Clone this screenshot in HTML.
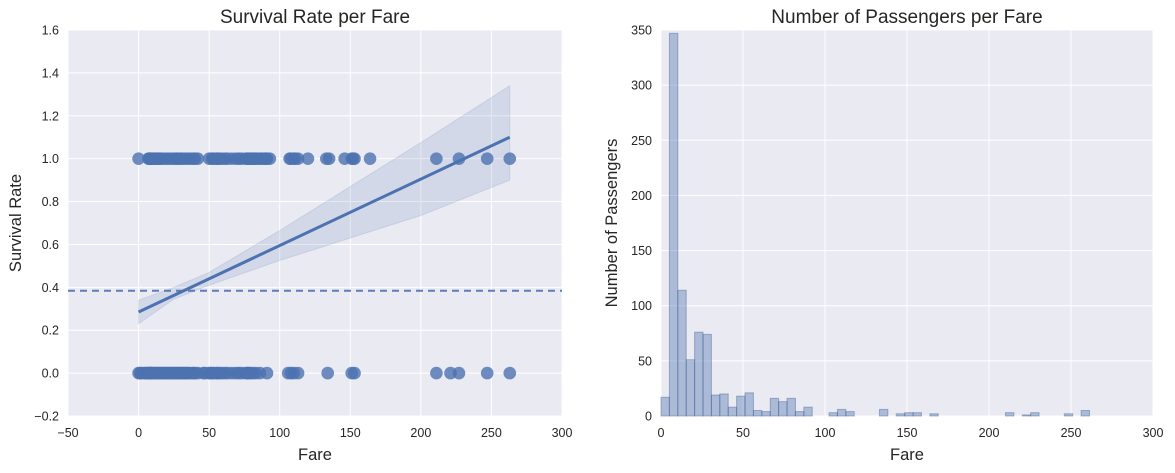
<!DOCTYPE html>
<html><head><meta charset="utf-8">
<style>
html,body{margin:0;padding:0;background:#fff;}
svg{display:block;font-family:"Liberation Sans",Arial,sans-serif;}
</style></head>
<body>
<svg id="chart" width="1175" height="473" viewBox="0 0 1175 473" xmlns="http://www.w3.org/2000/svg"></svg>
<script>
// ---- Left chart data ----
const survivedFares = [0,7,7.5,8,8.5,9,10,11,12,13,14,15,16,18,20,22,24,26,27,28,30,31,33,35,37,39,40,42,50,52,53,55,56,57,59,61,63,66,69,71,73,76,77,78,79,80,81,82,83,84,86,87,89,90,91,93,107,108,110,111,113,120,133,135,146,151,152,153,164,211,227,247,263];
const diedFares = [0,1,2,4,5,6,7,7.5,8,8.5,9,10,11,12,13,14,15,16,17,18,19,20,21,22,23,24,25,26,27,28,29,30,31,32,33,34,35,36,38,39,40,42,46,47,50,51,52,53,55,56,57,59,61,63,66,69,71,73,76,77,78,79,81,83,86,91,106,108,110,113,134,151,153,211,221,227,247,263];
const regX = [0, 263];
const regY = [0.285, 1.10];
const ciX = [0, 25, 50, 100, 150, 200, 263];
const ciLo = [0.23, 0.345, 0.41, 0.525, 0.63, 0.735, 0.90];
const ciHi = [0.34, 0.40, 0.47, 0.665, 0.87, 1.075, 1.34];
const meanRate = 0.384;
const leftXTicks = [-50,0,50,100,150,200,250,300];
const leftYTicks = [-0.2,0,0.2,0.4,0.6,0.8,1.0,1.2,1.4,1.6];

// ---- Right chart data ----
const binWidth = 5.1233;
const histCounts = [17,347,114,51,76,74,19,20,8,18,21,5,4,16,13,16,4,8,0,0,3,6,4,0,0,0,6,0,2,3,3,0,2,0,0,0,0,0,0,0,0,3,0,1,3,0,0,0,2,0,5];
const rightXTicks = [0,50,100,150,200,250,300];
const rightYTicks = [0,50,100,150,200,250,300,350];

const NS = "http://www.w3.org/2000/svg";
const svg = document.getElementById('chart');
function el(tag, attrs, parent, text){
  const e = document.createElementNS(NS, tag);
  for (const k in attrs) e.setAttribute(k, attrs[k]);
  if (text !== undefined) e.textContent = text;
  (parent || svg).appendChild(e);
  return e;
}
const fmt = s => String(s).replace('-', '\u2212');
const BLUE = '#4c72b0';
const TICK = 12.5, TITLE = 19, LABEL = 16.5;

// ---------- LEFT ----------
const L = {x0:68, x1:562, y0:30, y1:416, xmin:-50, xmax:300, ymin:-0.2, ymax:1.6};
const lx = v => L.x0 + (v - L.xmin) / (L.xmax - L.xmin) * (L.x1 - L.x0);
const ly = v => L.y1 - (v - L.ymin) / (L.ymax - L.ymin) * (L.y1 - L.y0);

const gL = el('g', {});


const bgL = el('rect', {x:L.x0, y:L.y0, width:L.x1-L.x0, height:L.y1-L.y0, fill:'#eaeaf2'}, gL);


leftXTicks.forEach(t => {
  const g = el('line', {x1:lx(t), x2:lx(t), y1:L.y0, y2:L.y1, stroke:'#fff', 'stroke-width':1}, gL);
  
  
  const tx = el('text', {x:lx(t), y:L.y1+21, 'text-anchor':'middle', 'font-size':TICK, fill:'#262626'}, gL, fmt(t));
  
  
});
leftYTicks.forEach(t => {
  const g = el('line', {x1:L.x0, x2:L.x1, y1:ly(t), y2:ly(t), stroke:'#fff', 'stroke-width':1}, gL);
  
  
  const tx = el('text', {x:L.x0-9, y:ly(t)+4.5, 'text-anchor':'end', 'font-size':TICK, fill:'#262626'}, gL, fmt(t.toFixed(1)));
  
  
});
let ptsTop = ciX.map((x,i)=>lx(x)+','+ly(ciHi[i]));
let ptsBot = ciX.map((x,i)=>lx(x)+','+ly(ciLo[i])).reverse();
const band = el('polygon', {points: ptsTop.concat(ptsBot).join(' '), fill:BLUE, 'fill-opacity':0.15, stroke:BLUE, 'stroke-opacity':0.15}, gL);


survivedFares.forEach(f => {
  const c = el('circle', {cx:lx(f), cy:ly(1), r:6.3, fill:BLUE, 'fill-opacity':0.8}, gL);
  
  
});
diedFares.forEach(f => {
  const c = el('circle', {cx:lx(f), cy:ly(0), r:6.3, fill:BLUE, 'fill-opacity':0.8}, gL);
  
  
});
const rl = el('line', {x1:lx(regX[0]), y1:ly(regY[0]), x2:lx(regX[1]), y2:ly(regY[1]), stroke:BLUE, 'stroke-width':3}, gL);


const ml = el('line', {x1:L.x0, x2:L.x1, y1:ly(meanRate), y2:ly(meanRate), stroke:BLUE, 'stroke-width':2, 'stroke-dasharray':'7,5', 'stroke-opacity':0.9}, gL);


const lt = el('text', {x:(L.x0+L.x1)/2, y:L.y0-7, 'text-anchor':'middle', 'font-size':TITLE, fill:'#262626'}, gL, 'Survival Rate per Fare');


const lxl = el('text', {x:(L.x0+L.x1)/2, y:L.y1+44, 'text-anchor':'middle', 'font-size':LABEL, fill:'#262626'}, gL, 'Fare');


const lyl = el('text', {x:0, y:0, 'text-anchor':'middle', 'font-size':LABEL, fill:'#262626', transform:`translate(21,${(L.y0+L.y1)/2}) rotate(-90)`}, gL, 'Survival Rate');



// ---------- RIGHT ----------
const R = {x0:661, x1:1153, y0:30, y1:416, xmin:0, xmax:300, ymin:0, ymax:350};
const rx = v => R.x0 + (v - R.xmin) / (R.xmax - R.xmin) * (R.x1 - R.x0);
const ry = v => R.y1 - (v - R.ymin) / (R.ymax - R.ymin) * (R.y1 - R.y0);
const gR = el('g', {});


const bgR = el('rect', {x:R.x0, y:R.y0, width:R.x1-R.x0, height:R.y1-R.y0, fill:'#eaeaf2'}, gR);


rightXTicks.forEach(t => {
  const g = el('line', {x1:rx(t), x2:rx(t), y1:R.y0, y2:R.y1, stroke:'#fff', 'stroke-width':1}, gR);
  
  
  const tx = el('text', {x:rx(t), y:R.y1+21, 'text-anchor':'middle', 'font-size':TICK, fill:'#262626'}, gR, String(t));
  
  
});
rightYTicks.forEach(t => {
  const g = el('line', {x1:R.x0, x2:R.x1, y1:ry(t), y2:ry(t), stroke:'#fff', 'stroke-width':1}, gR);
  
  
  const tx = el('text', {x:R.x0-9, y:ry(t)+4.5, 'text-anchor':'end', 'font-size':TICK, fill:'#262626'}, gR, String(t));
  
  
});
histCounts.forEach((c,i) => {
  if (c <= 0) return;
  const a = i*binWidth, b = (i+1)*binWidth;
  const r = el('rect', {x:rx(a), y:ry(c), width:rx(b)-rx(a), height:ry(0)-ry(c), fill:BLUE, 'fill-opacity':0.4, stroke:'#3c5a8c', 'stroke-opacity':0.4, 'stroke-width':1}, gR);
  
  
});
const rt = el('text', {x:(R.x0+R.x1)/2, y:R.y0-7, 'text-anchor':'middle', 'font-size':TITLE, fill:'#262626'}, gR, 'Number of Passengers per Fare');


const rxl = el('text', {x:(R.x0+R.x1)/2, y:R.y1+44, 'text-anchor':'middle', 'font-size':LABEL, fill:'#262626'}, gR, 'Fare');


const ryl = el('text', {x:0, y:0, 'text-anchor':'middle', 'font-size':LABEL, fill:'#262626', transform:`translate(617,${(R.y0+R.y1)/2}) rotate(-90)`}, gR, 'Number of Passengers');


</script>
</body></html>
